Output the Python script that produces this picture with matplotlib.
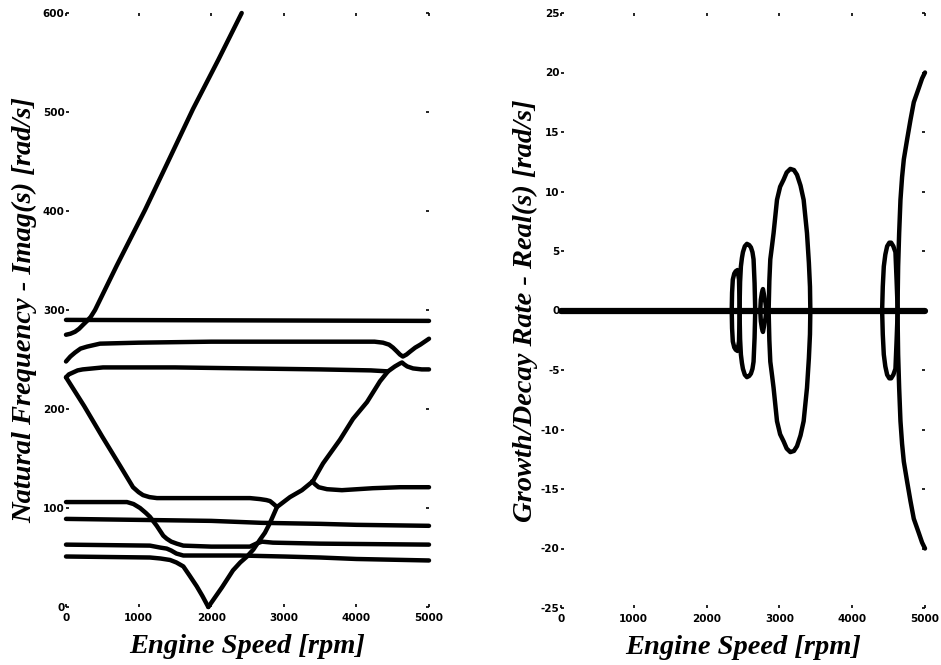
import matplotlib
matplotlib.use("Agg")
import matplotlib.pyplot as plt

plt.rcParams['axes.unicode_minus'] = False

# ---------------- Left plot: Natural frequency (imag part) ----------------
rpm_steep = [0, 60, 124, 180, 234, 290, 340, 400, 700, 1088, 1400, 1749, 2100, 2420]
frq_steep = [275, 276, 278, 281, 285, 289, 293, 300, 345, 401, 449, 503, 553, 600]

rpm_h290 = [0, 5000]
frq_h290 = [290, 289]

rpm_b = [0, 60, 124, 200, 290, 468, 1000, 2000, 3000, 4000, 4250, 4366, 4450, 4504, 4560, 4600, 4640, 4690, 4740, 4810, 4880, 5000]
frq_b = [248, 253, 257, 261, 263, 266, 267, 268, 268, 268, 268, 267, 265, 262, 258, 255, 253, 255, 258, 262, 265, 271]

rpm_c = [0, 40, 100, 160, 230, 510, 1500, 2500, 3500, 4200, 4435]
frq_c = [232, 235, 237, 239, 240, 242, 242, 241, 240, 239, 238]

rpm_v = [0, 250, 500, 750, 923, 1000, 1061, 1150, 1253, 1500, 1846, 2534, 2672, 2760, 2810, 2860, 2906]
frq_v = [232, 203, 172, 142, 121, 116, 113, 111, 110, 110, 110, 110, 109, 108, 107, 104, 101]

rpm_rise = [1960, 2150, 2300, 2400, 2493, 2580, 2672, 2740, 2810, 2906, 3085, 3250, 3400, 3540, 3774, 3953, 4146, 4325, 4435, 4530, 4600, 4628, 4660, 4700, 4780, 4900, 5000]
frq_rise = [0, 20, 37, 45, 51, 58, 68, 75, 85, 101, 111, 118, 127, 145, 169, 190, 207, 228, 238, 243, 246, 247, 245, 243, 241, 240, 240]

rpm_flat120 = [3390, 3430, 3480, 3595, 3800, 4229, 4600, 5000]
frq_flat120 = [127, 124, 121, 119, 118, 120, 121, 121]

rpm_e = [0, 1000, 2000, 2700, 3500, 4000, 5000]
frq_e = [89, 88, 87, 85, 84, 83, 82]

rpm_d = [0, 840, 930, 1020, 1100, 1157, 1250, 1340, 1387, 1450, 1525, 1616, 2000, 2534, 2620, 2700, 2850, 3500, 5000]
frq_d = [106, 106, 104, 100, 95, 91, 82, 72, 69, 66, 64, 62, 61, 61, 64, 66, 65, 64, 63]

rpm_g = [0, 1157, 1300, 1387, 1450, 1520, 1616, 1750, 2000, 2400, 3000, 3500, 4000, 5000]
frq_g = [63, 62, 60, 59, 57, 54, 52, 52, 52, 52, 51, 50, 48.5, 47]

rpm_f = [0, 1157, 1300, 1433, 1520, 1616, 1700, 1800, 1880, 1960]
frq_f = [51, 50, 49, 47.5, 45, 41, 32, 21, 11, 0]

# ---------------- Right plot: Growth/decay rate (real part) ----------------
rpm_zero = [0, 5000]
re_zero = [0, 0]

rpm_loop1 = [2345, 2350, 2360, 2380, 2400, 2425, 2445, 2455]
re_loop1 = [0, 1.5, 2.6, 3.1, 3.3, 3.4, 2.6, 0]

rpm_loop2 = [2452, 2460, 2471, 2485, 2499, 2525, 2554, 2585, 2609, 2630, 2645, 2659, 2668]
re_loop2 = [0, 2.4, 3.7, 4.4, 4.9, 5.4, 5.6, 5.5, 5.3, 4.9, 4.3, 2.3, 0]

rpm_loop3 = [2737, 2745, 2760, 2774, 2792, 2810, 2820]
re_loop3 = [0, 0.9, 1.5, 1.8, 1.2, 0.6, 0]

rpm_loop4 = [2852, 2862, 2875, 2900, 2920, 2967, 3010, 3058, 3100, 3150, 3200, 3242, 3290, 3333, 3379, 3405, 3420, 3425]
re_loop4 = [0, 2.5, 4.3, 5.5, 6.5, 9.3, 10.4, 11.0, 11.6, 11.9, 11.8, 11.4, 10.5, 9.3, 6.5, 4.0, 2.0, 0]

rpm_loop5 = [4411, 4420, 4434, 4455, 4480, 4510, 4535, 4565, 4594, 4610, 4625]
re_loop5 = [0, 2.0, 3.7, 4.7, 5.4, 5.7, 5.7, 5.4, 4.9, 2.5, 0]

rpm_big = [4622, 4631, 4645, 4663, 4685, 4709, 4755, 4800, 4846, 4915, 4960, 5000]
re_big = [0, 3.7, 6.5, 9.3, 11.2, 12.7, 14.4, 16.0, 17.5, 18.7, 19.5, 20.0]

x_ticks = [0, 1000, 2000, 3000, 4000, 5000]
y_ticks_left = [0, 100, 200, 300, 400, 500, 600]
y_ticks_right = [-25, -20, -15, -10, -5, 0, 5, 10, 15, 20, 25]

W, H = 941, 665
fig = plt.figure(figsize=(W / 100, H / 100), dpi=100)

ax1 = fig.add_axes([66 / W, (H - 607) / H, 363 / W, 594 / H])
ax2 = fig.add_axes([561 / W, (H - 608) / H, 364 / W, 595 / H])

lw = 3.2
style = dict(color='black', lw=lw, solid_capstyle='round', solid_joinstyle='round', clip_on=False)

for xs, ys in [(rpm_steep, frq_steep), (rpm_h290, frq_h290), (rpm_b, frq_b), (rpm_c, frq_c),
               (rpm_v, frq_v), (rpm_rise, frq_rise), (rpm_flat120, frq_flat120), (rpm_e, frq_e),
               (rpm_d, frq_d), (rpm_g, frq_g), (rpm_f, frq_f)]:
    ax1.plot(xs, ys, **style)

ax2.plot(rpm_zero, re_zero, color='black', lw=4.5, solid_capstyle='round', clip_on=False)
for xs, ys in [(rpm_loop1, re_loop1), (rpm_loop2, re_loop2), (rpm_loop3, re_loop3),
               (rpm_loop4, re_loop4), (rpm_loop5, re_loop5), (rpm_big, re_big)]:
    ax2.plot(xs, ys, **style)
    ax2.plot(xs, [-v for v in ys], **style)

tick_font = dict(family=['Liberation Sans Narrow', 'DejaVu Sans Condensed', 'DejaVu Sans'],
                 weight='bold', size=7.5)
label_font = dict(family=['Liberation Serif', 'DejaVu Serif'], style='italic', weight='bold', size=20.5)

for ax, yt, ylim, ylabel, ylx in [
        (ax1, y_ticks_left, (0, 600), 'Natural Frequency - Imag(s) [rad/s]', -0.115),
        (ax2, y_ticks_right, (-25, 25), 'Growth/Decay Rate - Real(s) [rad/s]', -0.098)]:
    ax.set_xlim(0, 5000)
    ax.set_ylim(*ylim)
    ax.set_xticks(x_ticks)
    ax.set_yticks(yt)
    ax.set_xticklabels([str(v) for v in x_ticks], **tick_font)
    ax.set_yticklabels([str(v) for v in yt], **tick_font)
    for s in ax.spines.values():
        s.set_visible(False)
    ax.tick_params(axis='both', direction='in', length=2.5, width=1.2, color='black',
                   top=True, right=True)
    ax.tick_params(axis='x', pad=4)
    ax.tick_params(axis='y', pad=1)
    ax.set_xlabel('Engine Speed [rpm]', va='baseline', **label_font)
    ax.xaxis.set_label_coords(0.5, -0.0774)
    ax.set_ylabel(ylabel, va='center', **label_font)
    ax.yaxis.set_label_coords(ylx, 0.5)
    ax.patch.set_visible(False)

fig.savefig('out.png', dpi=100, facecolor='white')
